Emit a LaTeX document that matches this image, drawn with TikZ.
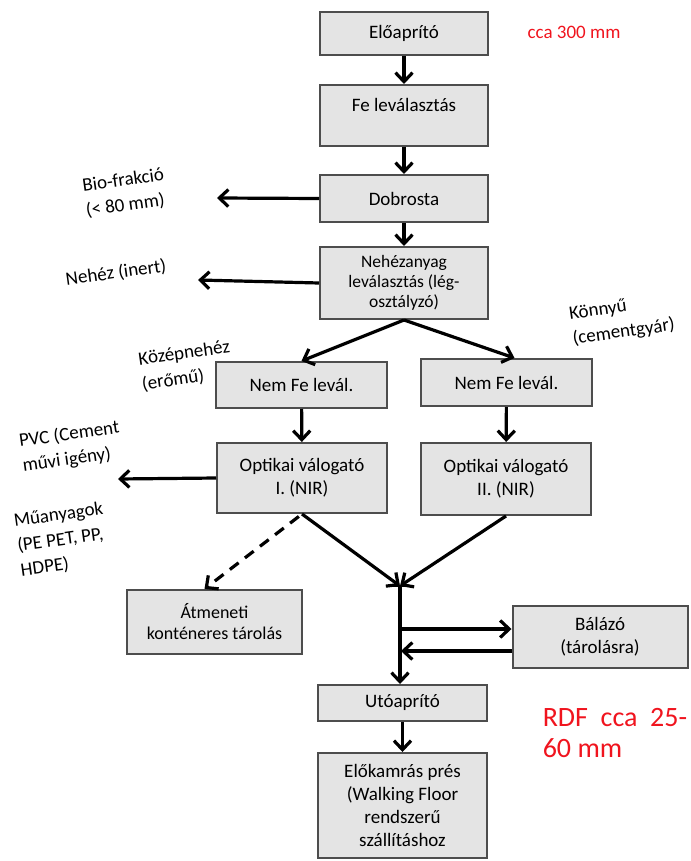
\documentclass[tikz,border=0pt]{standalone}
\usepackage{fontspec}
\setmainfont{Carlito}
\usetikzlibrary{arrows.meta, positioning}

\definecolor{boxfill}{HTML}{E4E4E4}
\definecolor{boxline}{HTML}{4D4D4D}
\definecolor{rdfred}{HTML}{F0141E}

\begin{document}
\begin{tikzpicture} [x=1pt, y=-1pt, on grid,
    box/.style = {draw=boxline, fill=boxfill, line width=2pt, minimum width=168pt,
                  align=center, inner sep=0pt, font=\fontsize{19}{23}\selectfont},
    lbl/.style = {align=left, rotate=8, inner sep=0pt, font=\fontsize{19}{25}\selectfont},
    arr/.style = {-{Straight Barb[length=9pt, width=17pt]}, line width=3.2pt}]

\useasboundingbox (0,0) rectangle (690,861);

\node (pre) [box, minimum height=43pt] at (404,33.5) {Előaprító};
\node (fe) [box, below = 82pt of pre, text height=26.5pt, text depth=34.5pt] {Fe leválasztás};
\node (dob) [box, below = 83pt of fe, minimum height=47pt] {Dobrosta};
\node (heavy) [box, below = 84.5pt of dob, minimum height=72pt,
               font=\fontsize{17.5}{20}\selectfont] {Nehézanyag\\leválasztás (lég-\\osztályzó)};

\node (nfa) [box, minimum width=171pt, minimum height=46pt] at (301.5,385) {Nem Fe levál.};
\node (nfb) [box, minimum width=171pt, minimum height=47pt] at (506.5,382.5) {Nem Fe levál.};
\node (opa) [box, minimum width=170pt, minimum height=70pt] at (302,478) {Optikai válogató\\I. (NIR)};
\node (opb) [box, minimum width=170pt, minimum height=72pt] at (506,479) {Optikai válogató\\II. (NIR)};

\node (tmp) [box, minimum width=175pt, minimum height=64pt,
             font=\fontsize{18}{21}\selectfont] at (214.5,622) {Átmeneti\\konténeres tárolás};
\node (bal) [box, minimum width=175pt, minimum height=62pt] at (600,637) {Bálázó\\(tárolásra)};
\node (uto) [box, minimum width=169pt, minimum height=36pt] at (402.5,703) {Utóaprító};
\node (pres) [box, minimum width=169pt, minimum height=105pt] at (402.5,805.5)
    {Előkamrás prés\\(Walking Floor\\rendszerű\\szállításhoz};

\node (bio) [lbl] at (125,193) {Bio-frakció\\(< 80 mm)};
\node (inert) [lbl] at (116,273) {Nehéz (inert)};
\node (light) [lbl] at (622,320) {Könnyű\\(cementgyár)};
\node (mid) [lbl] at (186,366) {Középnehéz\\(erőmű)};
\node (pvc) [lbl] at (71,447) {PVC (Cement\\művi igény)};
\node (plastic) [lbl] at (62,540) {Műanyagok\\(PE PET, PP,\\HDPE)};

\node (size) [text=rdfred, font=\fontsize{19}{23}\selectfont] at (574,32) {cca 300 mm};
\node (rdf) [text=rdfred, align=left, font=\fontsize{28}{31}\selectfont] at (615,733)
    {RDF\ \ cca\ \ 25-\\60 mm};

\coordinate (bioend) at (217,198);
\coordinate (inertend) at (198,280);
\coordinate (pvcend) at (118,479);
\coordinate (join) at (400,586);
\coordinate (toBal) at (401,629);
\coordinate (fromBal) at (401,651);

\draw [arr] (pre) -- (fe);
\draw [arr] (fe) -- (dob);
\draw [arr] (dob) -- (heavy);
\draw [arr] (dob.west) -- (bioend);
\draw [arr] (heavy.west) -- (inertend);
\draw [arr] (heavy.south) -- (nfa.north);
\draw [arr] (heavy.south) -- ([xshift=8pt]nfb.north);
\draw [arr] (nfa) -- (opa);
\draw [arr] (nfb) -- (opb);
\draw [arr] (opa.west) -- (pvcend);
\draw [arr, dash pattern=on 11pt off 8pt, shorten <=4pt] (opa.south) -- ([xshift=-10pt]tmp.north);
\draw [arr] (opa.south) -- (join);
\draw [arr] (opb.south) -- (join);
\draw [line width=2.4pt] ([xshift=-14pt]join) -- ([xshift=14pt]join);
\draw [arr] (join) -- (join |- uto.north);
\draw [arr] (toBal) -- (toBal -| bal.west);
\draw [arr] (fromBal -| bal.west) -- (fromBal);
\draw [arr] (uto) -- (pres);

\end{tikzpicture}
\end{document}
